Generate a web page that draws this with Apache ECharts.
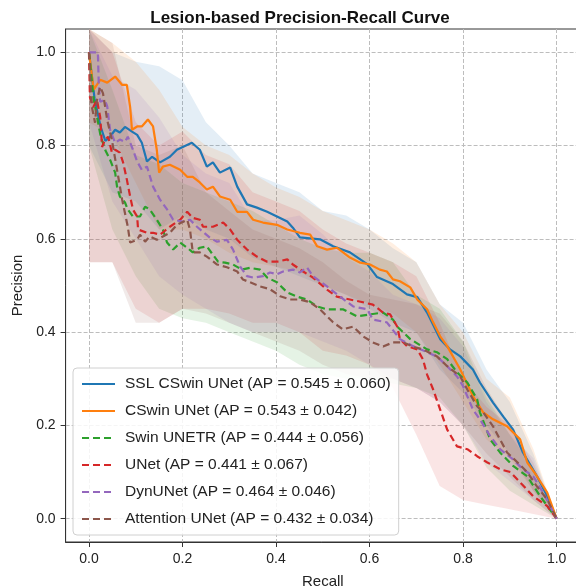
<!DOCTYPE html>
<html>
<head>
<meta charset="utf-8">
<script src="https://cdn.jsdelivr.net/npm/echarts@6/dist/echarts.min.js"></script>
<style>html,body{margin:0;padding:0;background:#fff}#c{width:576px;height:588px}</style>
</head>
<body>
<div id="c"></div>
<script>
// ---------- data ----------
const modelNames = ['SSL CSwin UNet', 'CSwin UNet', 'Swin UNETR', 'UNet', 'DynUNet', 'Attention UNet'];
const apMean = [0.545, 0.543, 0.444, 0.441, 0.464, 0.432];
const apStd  = [0.060, 0.042, 0.056, 0.067, 0.046, 0.034];
const tickValues = [0, 0.2, 0.4, 0.6, 0.8, 1.0];

// mean curves [recall, precision]
const sslCswin = [[0,1.0],[0.012,0.90],[0.025,0.84],[0.035,0.81],[0.045,0.819],[0.056,0.834],[0.066,0.828],[0.077,0.840],[0.092,0.830],[0.103,0.823],[0.113,0.806],[0.124,0.766],[0.135,0.776],[0.152,0.764],[0.173,0.776],[0.188,0.791],[0.220,0.806],[0.237,0.791],[0.252,0.755],[0.265,0.764],[0.280,0.742],[0.302,0.753],[0.317,0.712],[0.338,0.674],[0.359,0.667],[0.381,0.658],[0.402,0.648],[0.424,0.637],[0.436,0.624],[0.451,0.603],[0.494,0.599],[0.522,0.584],[0.558,0.571],[0.595,0.546],[0.616,0.518],[0.650,0.503],[0.680,0.481],[0.702,0.475],[0.723,0.442],[0.751,0.385],[0.772,0.363],[0.794,0.348],[0.821,0.320],[0.836,0.292],[0.864,0.249],[0.886,0.219],[0.907,0.191],[0.928,0.142],[0.958,0.091],[0.980,0.048],[1.0,0.0]];
const cswin = [[0,1.0],[0.01,0.92],[0.024,0.941],[0.039,0.935],[0.056,0.948],[0.071,0.930],[0.081,0.930],[0.088,0.883],[0.092,0.834],[0.103,0.841],[0.113,0.841],[0.126,0.856],[0.137,0.841],[0.145,0.791],[0.150,0.742],[0.158,0.755],[0.173,0.759],[0.195,0.748],[0.210,0.733],[0.222,0.733],[0.237,0.721],[0.252,0.706],[0.265,0.712],[0.280,0.691],[0.302,0.684],[0.317,0.658],[0.338,0.658],[0.351,0.641],[0.372,0.635],[0.402,0.630],[0.424,0.620],[0.451,0.613],[0.473,0.609],[0.488,0.584],[0.509,0.577],[0.530,0.581],[0.558,0.560],[0.580,0.549],[0.601,0.545],[0.622,0.534],[0.637,0.530],[0.650,0.513],[0.665,0.509],[0.687,0.496],[0.702,0.470],[0.723,0.449],[0.736,0.421],[0.751,0.391],[0.766,0.370],[0.794,0.320],[0.821,0.263],[0.843,0.228],[0.864,0.213],[0.894,0.198],[0.922,0.170],[0.937,0.121],[0.958,0.091],[0.980,0.056],[1.0,0.0]];
const swinUnetr = [[0,1.0],[0.01,0.90],[0.025,0.82],[0.035,0.79],[0.045,0.770],[0.056,0.742],[0.060,0.712],[0.066,0.691],[0.077,0.678],[0.083,0.663],[0.094,0.648],[0.109,0.648],[0.120,0.669],[0.130,0.663],[0.145,0.641],[0.158,0.620],[0.167,0.592],[0.180,0.577],[0.195,0.592],[0.210,0.581],[0.222,0.571],[0.237,0.581],[0.252,0.584],[0.265,0.566],[0.276,0.551],[0.291,0.549],[0.308,0.545],[0.327,0.534],[0.344,0.538],[0.366,0.534],[0.381,0.517],[0.402,0.507],[0.424,0.485],[0.445,0.476],[0.466,0.470],[0.488,0.455],[0.509,0.449],[0.543,0.449],[0.573,0.434],[0.601,0.438],[0.629,0.442],[0.650,0.427],[0.659,0.412],[0.687,0.385],[0.723,0.363],[0.744,0.357],[0.766,0.342],[0.787,0.314],[0.809,0.292],[0.830,0.256],[0.836,0.228],[0.858,0.170],[0.879,0.142],[0.907,0.113],[0.937,0.091],[0.965,0.048],[1.0,0.0]];
const unet = [[0,1.0],[0.002,0.904],[0.009,0.882],[0.017,0.898],[0.024,0.861],[0.028,0.797],[0.034,0.812],[0.041,0.819],[0.049,0.785],[0.056,0.791],[0.066,0.785],[0.073,0.764],[0.081,0.727],[0.088,0.691],[0.094,0.663],[0.103,0.648],[0.105,0.620],[0.124,0.613],[0.137,0.613],[0.152,0.609],[0.173,0.626],[0.195,0.641],[0.210,0.658],[0.222,0.645],[0.237,0.641],[0.244,0.626],[0.265,0.626],[0.287,0.635],[0.302,0.620],[0.317,0.598],[0.338,0.577],[0.359,0.562],[0.381,0.551],[0.402,0.551],[0.424,0.556],[0.436,0.545],[0.458,0.530],[0.479,0.517],[0.509,0.491],[0.530,0.476],[0.558,0.470],[0.586,0.464],[0.607,0.459],[0.629,0.442],[0.644,0.438],[0.659,0.412],[0.665,0.385],[0.680,0.370],[0.702,0.363],[0.714,0.342],[0.723,0.309],[0.736,0.277],[0.751,0.234],[0.766,0.191],[0.787,0.155],[0.809,0.149],[0.830,0.134],[0.851,0.121],[0.879,0.106],[0.901,0.100],[0.922,0.078],[0.950,0.048],[0.980,0.027],[1.0,0.0]];
const dynUnet = [[0,1.0],[0.019,1.0],[0.021,0.93],[0.024,0.894],[0.034,0.898],[0.039,0.884],[0.045,0.834],[0.056,0.806],[0.066,0.813],[0.077,0.808],[0.083,0.819],[0.094,0.791],[0.103,0.766],[0.113,0.748],[0.124,0.755],[0.137,0.712],[0.152,0.684],[0.167,0.663],[0.180,0.641],[0.201,0.637],[0.216,0.641],[0.231,0.626],[0.259,0.602],[0.274,0.594],[0.295,0.598],[0.308,0.577],[0.323,0.541],[0.338,0.520],[0.351,0.517],[0.372,0.520],[0.387,0.528],[0.402,0.524],[0.415,0.530],[0.436,0.534],[0.451,0.528],[0.466,0.539],[0.479,0.520],[0.509,0.498],[0.537,0.476],[0.565,0.455],[0.595,0.449],[0.607,0.427],[0.637,0.421],[0.665,0.385],[0.693,0.370],[0.723,0.357],[0.744,0.348],[0.766,0.327],[0.787,0.305],[0.800,0.284],[0.821,0.234],[0.836,0.213],[0.858,0.177],[0.879,0.149],[0.907,0.127],[0.928,0.106],[0.950,0.091],[0.971,0.056],[1.0,0.0]];
const attUnet = [[0,1.0],[0.006,0.884],[0.013,0.849],[0.017,0.898],[0.024,0.926],[0.030,0.912],[0.039,0.855],[0.049,0.812],[0.060,0.748],[0.071,0.684],[0.083,0.626],[0.088,0.592],[0.103,0.598],[0.109,0.609],[0.120,0.594],[0.130,0.605],[0.145,0.598],[0.158,0.605],[0.173,0.613],[0.188,0.630],[0.210,0.641],[0.216,0.620],[0.222,0.571],[0.237,0.571],[0.252,0.562],[0.274,0.545],[0.295,0.539],[0.317,0.530],[0.329,0.513],[0.344,0.507],[0.366,0.498],[0.387,0.492],[0.409,0.477],[0.430,0.470],[0.451,0.470],[0.473,0.464],[0.494,0.449],[0.522,0.421],[0.543,0.406],[0.565,0.412],[0.586,0.391],[0.607,0.378],[0.629,0.369],[0.650,0.378],[0.672,0.378],[0.693,0.369],[0.714,0.363],[0.744,0.348],[0.766,0.327],[0.794,0.305],[0.809,0.277],[0.830,0.241],[0.843,0.228],[0.864,0.198],[0.879,0.170],[0.894,0.142],[0.916,0.121],[0.937,0.100],[0.958,0.069],[0.980,0.041],[1.0,0.0]];

// shaded bands [recall, lower, upper]
const sslCswinBand = [[0,0.80,1.05],[0.05,0.70,1.0],[0.1,0.68,0.98],[0.15,0.62,0.97],[0.2,0.65,0.94],[0.25,0.62,0.85],[0.3,0.60,0.80],[0.35,0.56,0.74],[0.4,0.54,0.72],[0.45,0.52,0.70],[0.5,0.50,0.66],[0.55,0.48,0.65],[0.6,0.45,0.62],[0.65,0.42,0.58],[0.7,0.40,0.55],[0.75,0.32,0.46],[0.8,0.27,0.42],[0.85,0.20,0.32],[0.9,0.14,0.25],[0.95,0.06,0.14],[1,0,0]];
const cswinBand = [[0,0.85,1.05],[0.05,0.82,1.02],[0.1,0.72,0.98],[0.15,0.62,0.92],[0.2,0.62,0.84],[0.25,0.60,0.80],[0.3,0.57,0.78],[0.35,0.55,0.74],[0.4,0.54,0.71],[0.45,0.53,0.69],[0.5,0.50,0.66],[0.55,0.48,0.64],[0.6,0.46,0.62],[0.65,0.44,0.59],[0.7,0.40,0.55],[0.75,0.33,0.46],[0.8,0.25,0.40],[0.85,0.17,0.30],[0.9,0.13,0.26],[0.95,0.06,0.15],[1,0,0]];
const swinUnetrBand = [[0,0.80,1.05],[0.05,0.62,0.92],[0.1,0.52,0.78],[0.15,0.45,0.76],[0.2,0.43,0.72],[0.25,0.42,0.70],[0.3,0.40,0.68],[0.35,0.38,0.66],[0.4,0.36,0.63],[0.45,0.33,0.60],[0.5,0.31,0.58],[0.55,0.30,0.57],[0.6,0.30,0.57],[0.65,0.29,0.55],[0.7,0.28,0.48],[0.75,0.26,0.45],[0.8,0.20,0.38],[0.85,0.11,0.26],[0.9,0.06,0.18],[0.95,0.03,0.11],[1,0,0]];
const unetBand = [[0,0.55,1.05],[0.05,0.55,1.0],[0.1,0.45,0.85],[0.15,0.42,0.80],[0.2,0.45,0.83],[0.25,0.45,0.78],[0.3,0.44,0.76],[0.35,0.42,0.70],[0.4,0.42,0.68],[0.45,0.40,0.66],[0.5,0.36,0.62],[0.55,0.35,0.59],[0.6,0.33,0.57],[0.65,0.28,0.55],[0.7,0.18,0.52],[0.75,0.07,0.42],[0.8,0.04,0.30],[0.85,0.03,0.24],[0.9,0.02,0.20],[0.95,0.01,0.10],[1,0,0]];
const dynUnetBand = [[0,0.85,1.05],[0.05,0.68,0.95],[0.1,0.60,0.92],[0.15,0.52,0.86],[0.2,0.48,0.78],[0.25,0.45,0.74],[0.3,0.42,0.72],[0.35,0.40,0.64],[0.4,0.40,0.64],[0.45,0.40,0.65],[0.5,0.38,0.61],[0.55,0.36,0.56],[0.6,0.33,0.53],[0.65,0.30,0.48],[0.7,0.28,0.46],[0.75,0.25,0.43],[0.8,0.20,0.37],[0.85,0.12,0.25],[0.9,0.08,0.18],[0.95,0.04,0.13],[1,0,0]];
const attUnetBand = [[0,0.55,1.05],[0.05,0.55,1.02],[0.1,0.42,0.80],[0.15,0.42,0.78],[0.2,0.45,0.80],[0.25,0.44,0.70],[0.3,0.42,0.66],[0.35,0.40,0.62],[0.4,0.38,0.60],[0.45,0.36,0.58],[0.5,0.33,0.55],[0.55,0.31,0.51],[0.6,0.30,0.48],[0.65,0.30,0.47],[0.7,0.28,0.46],[0.75,0.25,0.44],[0.8,0.20,0.38],[0.85,0.14,0.28],[0.9,0.09,0.20],[0.95,0.04,0.12],[1,0,0]];

// ---------- styling ----------
const curves = [sslCswin, cswin, swinUnetr, unet, dynUnet, attUnet];
const bands = [sslCswinBand, cswinBand, swinUnetrBand, unetBand, dynUnetBand, attUnetBand];
const colors = ['#1f77b4', '#ff7f0e', '#2ca02c', '#d62728', '#9467bd', '#8c564b'];
const dashed = [false, false, true, true, true, true];
const FONT = '"Liberation Sans", Arial, Helvetica, sans-serif';
const TXT = '#222';

const series = [];
bands.forEach((band, i) => {
  series.push({
    type: 'custom',
    name: 'band_' + i,
    silent: true,
    clip: true,
    z: 1,
    data: band,
    encode: { x: 0, y: [1, 2] },
    renderItem: (params, api) => {
      if (params.dataIndex !== 0) return null;
      const pts = [];
      band.forEach(b => pts.push(api.coord([b[0], b[2]])));
      for (let k = band.length - 1; k >= 0; k--) pts.push(api.coord([band[k][0], band[k][1]]));
      return { type: 'polygon', shape: { points: pts }, style: { fill: colors[i], opacity: 0.12 } };
    }
  });
});
curves.forEach((c, i) => {
  series.push({
    type: 'line',
    name: modelNames[i],
    data: c,
    showSymbol: false,
    symbol: 'none',
    z: 3 + i,
    color: colors[i],
    lineStyle: { color: colors[i], width: 2.2, type: dashed[i] ? [7, 4] : 'solid' },
    emphasis: { disabled: true },
    animation: false
  });
});

const axisCommon = {
  type: 'value',
  min: -0.05,
  max: 1.05,
  axisLine: { show: true, onZero: false, lineStyle: { color: '#333', width: 1 } },
  axisTick: { show: true, inside: false, length: 5, customValues: tickValues, lineStyle: { color: '#333' } },
  axisLabel: { customValues: tickValues, formatter: v => v.toFixed(1), color: TXT, fontSize: 14, fontFamily: FONT, margin: 10 },
  splitLine: { show: true, lineStyle: { color: '#bdbdbd', type: [4, 2], width: 1 } },
  nameTextStyle: { color: TXT, fontSize: 15, fontFamily: FONT }
};

const chart = echarts.init(document.getElementById('c'), null, { renderer: 'canvas' });
chart.setOption({
  animation: false,
  backgroundColor: '#fff',
  title: {
    text: 'Lesion-based Precision-Recall Curve',
    left: 295,
    top: 5,
    textAlign: 'center',
    textStyle: { fontSize: 17, fontWeight: 'bold', color: '#111', fontFamily: FONT }
  },
  grid: { left: 65.6, top: 29, right: -4, bottom: 46, show: true, borderColor: '#333', borderWidth: 1, backgroundColor: 'transparent', outerBoundsMode: 'none', containLabel: false },
  xAxis: Object.assign({}, axisCommon, { name: 'Recall', nameLocation: 'middle', nameGap: 32 }),
  yAxis: Object.assign({}, axisCommon, { name: 'Precision', nameLocation: 'middle', nameGap: 31 }),
  legend: {
    data: modelNames,
    orient: 'vertical',
    left: 73,
    top: 368,
    padding: [8, 8, 8, 8],
    itemWidth: 33,
    itemHeight: 14,
    itemGap: 11,
    backgroundColor: 'rgba(255,255,255,0.85)',
    borderColor: '#d0d0d0',
    borderWidth: 1,
    borderRadius: 4,
    itemStyle: { opacity: 0 },
    formatter: name => {
      const i = modelNames.indexOf(name);
      return name + ' (AP = ' + apMean[i].toFixed(3) + ' \u00b1 ' + apStd[i].toFixed(3) + ')';
    },
    textStyle: { color: TXT, fontSize: 15.5, fontFamily: FONT, padding: [0, 0, 0, 5] }
  },
  series: series
});
</script>
</body>
</html>
